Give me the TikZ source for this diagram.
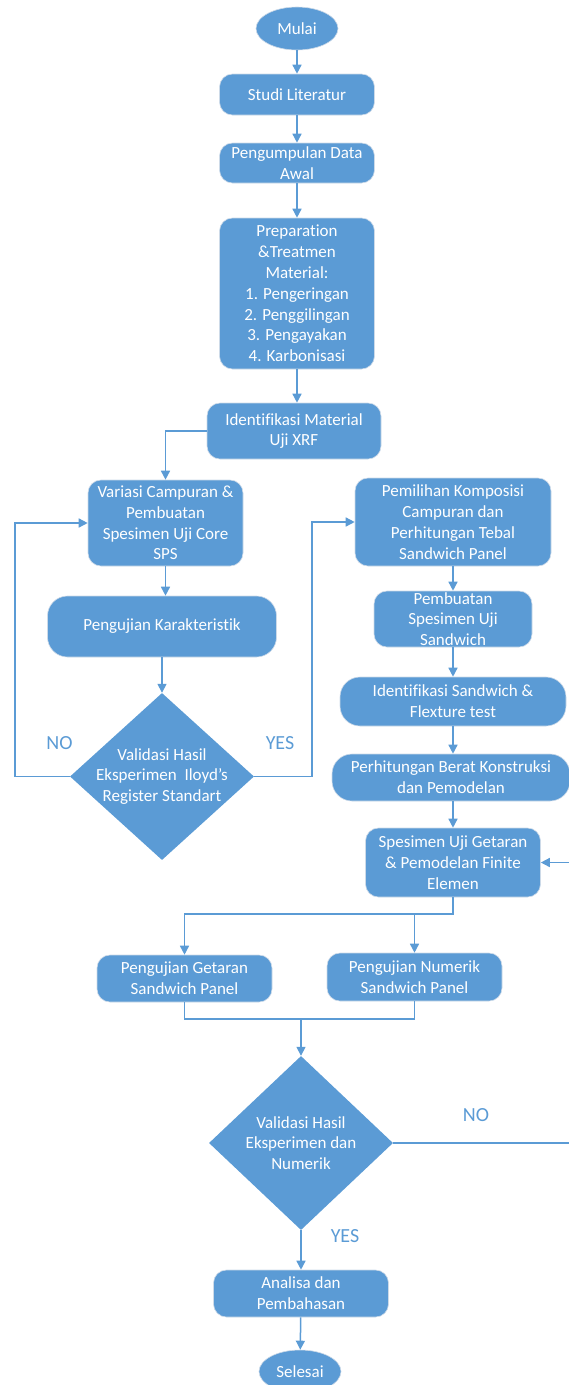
\documentclass[tikz,border=0pt]{standalone}
\usepackage{fontspec}
\setmainfont{Carlito}[Ligatures=NoCommon]
\usepackage{tikz}
\usepackage{xcolor}
\definecolor{flowblue}{RGB}{91, 155, 213}
\definecolor{flowedge}{RGB}{205, 218, 232}
\usetikzlibrary{shapes.geometric,calc,positioning,arrows.meta}

\begin{document}
\begin{tikzpicture}[x=1pt, y=-1pt,
    procbox/.style={draw=flowedge, line width=0.6pt, fill=flowblue, rounded corners=13pt, text=white, align=center, inner sep=0pt, font=\fontsize{17}{20.8}\selectfont},
    termbox/.style={ellipse, draw=flowedge, line width=0.6pt, fill=flowblue, text=white, inner sep=0pt, font=\fontsize{17}{20.8}\selectfont},
    decbox/.style={diamond, fill=flowblue, text=white, align=center, inner xsep=-30pt, inner ysep=0pt, font=\fontsize{17}{20.8}\selectfont},
    flow/.style={flowblue, line width=1.5pt, -{Triangle[length=9pt,width=9pt]}},
    link/.style={flowblue, line width=1.5pt},
    answer/.style={text=flowblue, font=\fontsize{20}{24}\selectfont}]
    \useasboundingbox (0,0) rectangle (568,1385);

    % Start and preparation
    \node[termbox, minimum width=82pt, minimum height=43pt] (mulai) at (297,28.5) {Mulai};
    \node[procbox, minimum width=155pt, minimum height=41pt] (studi) at (297,94.5) {Studi Literatur};
    \node[procbox, minimum width=155pt, minimum height=40pt] (kumpul) at (297,163) {Pengumpulan Data\\Awal};
    \node[procbox, minimum width=155pt, minimum height=151pt] (prep) at (297,293.5) {Preparation\\\&Treatmen\\Material:\\1. Pengeringan\\2. Penggilingan\\3. Pengayakan\\4. Karbonisasi};
    \node[procbox, minimum width=174pt, minimum height=56pt] (xrf) at (294,431) {Identifikasi Material\\Uji XRF};

    % Core specimen loop
    \node[procbox, minimum width=155pt, minimum height=86pt] (variasi) at (165.5,523) {Variasi Campuran \&\\Pembuatan\\Spesimen Uji Core\\SPS};
    \node[procbox, rounded corners=20pt, minimum width=229pt, minimum height=61pt] (karakter) at (162,626.5) {Pengujian Karakteristik};
    \node[decbox, minimum width=184pt, minimum height=167pt] (valid1) at (162,776.5) {Validasi Hasil\\Eksperimen\ \ Iloyd’s\\Register Standart};
    \node[answer] (no1) at (59.5,743.5) {NO};
    \node[answer] (yes1) at (280,743.5) {YES};

    % Sandwich panel column
    \node[procbox, minimum width=196pt, minimum height=88pt] (pilih) at (453,522) {Pemilihan Komposisi\\Campuran dan\\Perhitungan Tebal\\Sandwich Panel};
    \node[procbox, inner ysep=-3pt, minimum width=158pt, minimum height=56pt] (buat) at (453,619) {Pembuatan\\Spesimen Uji\\Sandwich};
    \node[procbox, rounded corners=20pt, minimum width=226pt, minimum height=49pt] (ident) at (453,701.5) {Identifikasi Sandwich \&\\Flexture test};
    \node[procbox, rounded corners=20pt, minimum width=238pt, minimum height=47pt] (hitung) at (451,777.5) {Perhitungan Berat Konstruksi\\dan Pemodelan};
    \node[procbox, minimum width=175pt, minimum height=69pt] (getar) at (453,862.5) {Spesimen Uji Getaran\\\& Pemodelan Finite\\Elemen};

    % Testing and validation
    \node[procbox, minimum width=175pt, minimum height=47pt] (uji1) at (184.5,978.5) {Pengujian Getaran\\Sandwich Panel};
    \node[procbox, minimum width=175pt, minimum height=48pt] (uji2) at (414.5,977) {Pengujian Numerik\\Sandwich Panel};
    \node[decbox, minimum width=184pt, minimum height=174pt] (valid2) at (301,1143) {Validasi Hasil\\Eksperimen dan\\Numerik};
    \node[answer] (no2) at (476,1115.5) {NO};
    \node[answer] (yes2) at (345,1236) {YES};
    \node[procbox, minimum width=175pt, minimum height=47pt] (analisa) at (301,1293.5) {Analisa dan\\Pembahasan};
    \node[termbox, minimum width=82pt, minimum height=43pt] (selesai) at (300,1371.5) {Selesai};

    % Main flow
    \draw[flow] (mulai) -- (studi);
    \draw[flow] (studi) -- (kumpul);
    \draw[flow] (kumpul) -- (prep);
    \draw[flow] (prep.south) -- (prep.south |- xrf.north);
    \draw[flow] (xrf.west) -| (variasi.north);
    \draw[flow] (variasi.south) -- (variasi.south |- karakter.north);
    \draw[flow] (karakter) -- (valid1);

    % Decision branches
    \draw[flow] (valid1.west) -- ++(-55,0) |- (variasi.west);
    \draw[flow] (valid1.east) -- ++(58,0) |- (pilih.west);

    % Right column
    \draw[flow] (pilih) -- (buat);
    \draw[flow] (buat) -- (ident);
    \draw[flow] (ident.south) -- (ident.south |- hitung.north);
    \draw[flow] (hitung.south -| getar.north) -- (getar.north);

    % Split and merge
    \coordinate (split) at (453,914);
    \draw[flow] (getar.south) -- (split) -| (uji1.north);
    \draw[flow] (uji2.north |- split) -- (uji2.north);
    \coordinate (merge) at (301,1019);
    \draw[link] (uji1.south) |- (merge) -| (uji2.south);
    \draw[flow] (merge) -- (valid2.north);
    \draw[flow] (valid2) -- (analisa);
    \draw[flow] (analisa) -- (selesai);

    % Return on NO
    \coordinate (edge) at (572,1143);
    \draw[flow] (valid2.east) -- (edge) |- (getar.east);
\end{tikzpicture}
\end{document}
